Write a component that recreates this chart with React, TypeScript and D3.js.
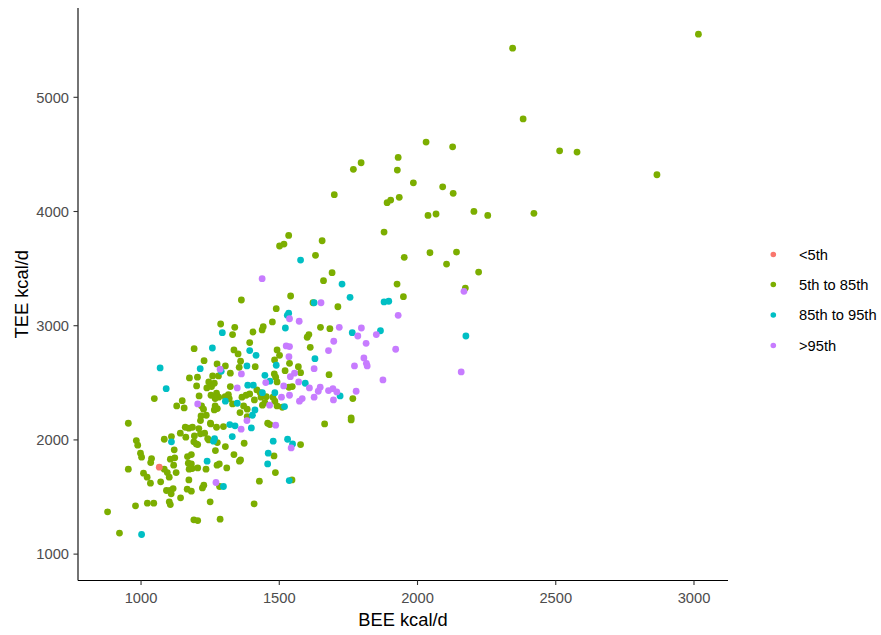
import React from "react";
import * as d3 from "d3";

const categories = ["<5th", "5th to 85th", "85th to 95th", ">95th"];
const colors = ["#F8766D", "#7CAE00", "#00BFC4", "#C77CFF"];
const xTicks = [1000, 1500, 2000, 2500, 3000];
const yTicks = [1000, 2000, 3000, 4000, 5000];

// [BEE, TEE] pairs per percentile group
const below5: [number, number][] = [[1066, 1761]];

const mid5to85: [number, number][] = [
  [954,2146],[983,1994],[988,1954],[998,1884],[1002,1849],[954,1744],[1038,1837],[1035,1802],
  [1084,1744],[1095,1714],[1102,1674],[1009,1709],[1022,1674],[1034,1621],[1071,1633],[1084,2006],
  [1110,2029],[1120,1913],[1106,1831],[1122,1843],[1118,1779],[1127,1714],[1092,1557],[1106,1557],
  [1116,1574],[1109,1528],[1102,1458],[1106,1434],[1143,1493],[1023,1446],[1046,1446],[980,1423],
  [879,1370],[922,1184],[1142,2059],[1162,2024],[1160,2111],[1173,2103],[1186,2111],[1209,2099],
  [1193,2035],[1215,2053],[1230,2059],[1241,2012],[1191,1983],[1200,1965],[1205,1959],[1168,1854],
  [1182,1872],[1171,1796],[1182,1790],[1174,1744],[1185,1749],[1205,1755],[1235,1744],[1173,1650],
  [1167,1569],[1182,1551],[1227,1604],[1222,1580],[1250,1458],[1191,1300],[1205,1294],[1286,1306],
  [1284,1592],[1252,2140],[1273,2111],[1298,2117],[1276,1977],[1245,2000],[1305,1942],[1269,1907],
  [1373,1971],[1336,1872],[1360,1825],[1356,1814],[1275,1779],[1283,1790],[1310,1755],[1363,3225],
  [1288,3015],[1339,2986],[1331,2922],[1393,2852],[1192,2799],[1336,2788],[1351,2753],[1228,2694],
  [1275,2665],[1305,2648],[1360,2689],[1355,2636],[1323,2584],[1175,2543],[1204,2549],[1259,2560],
  [1280,2560],[1245,2508],[1265,2496],[1238,2455],[1255,2467],[1201,2473],[1323,2467],[1048,2362],
  [1210,2385],[1253,2391],[1273,2409],[1281,2374],[1268,2362],[1304,2379],[1316,2397],[1319,2362],
  [1365,2374],[1380,2391],[1393,2403],[1149,2344],[1129,2298],[1156,2280],[1219,2298],[1226,2269],
  [1268,2298],[1276,2274],[1265,2263],[1331,2315],[1384,2269],[1217,2210],[1236,2216],[1358,2239],
  [1384,2204],[1215,2169],[1251,2146],[1458,2146],[1466,2134],[1664,2140],[1760,2175],[1577,1959],
  [1481,1860],[1486,1714],[1428,1639],[1546,1650],[1409,1440],[1489,3149],[1622,3201],[1712,3166],
  [1475,3033],[1442,2991],[1438,2963],[1405,2945],[1649,2986],[1683,2974],[1607,2922],[1601,2899],
  [1612,2811],[1492,2788],[1501,2741],[1483,2700],[1537,2671],[1413,2641],[1569,2641],[1521,2606],
  [1577,2589],[1680,2571],[1482,2578],[1487,2549],[1492,2508],[1535,2461],[1547,2467],[1419,2438],
  [1431,2414],[1434,2374],[1453,2379],[1477,2374],[1484,2339],[1766,2362],[1410,2350],[1371,2298],
  [1439,2304],[1448,2327],[1492,2298],[1511,2286],[1760,2193],[1699,4147],[1890,4077],[1903,4100],
  [1934,4124],[1534,3791],[1501,3698],[1517,3715],[1655,3744],[1879,3820],[1631,3616],[1691,3464],
  [1660,3394],[1926,3365],[1541,3260],[1952,3599],[2045,3639],[2141,3645],[2105,3540],[2221,3470],
  [1949,3254],[2173,3330],[2382,4811],[2031,4608],[2127,4566],[2514,4531],[2577,4520],[1930,4474],
  [1927,4363],[1985,4251],[2091,4216],[2129,4159],[2038,3966],[2067,3978],[2204,4001],[2254,3966],
  [2421,3984],[3016,5553],[2866,4322],[2344,5430],[1796,4427],[1768,4369],
];

const mid85to95: [number, number][] = [
  [1110,1983],[1002,1172],[1239,1814],[1298,1592],[1321,2134],[1340,2123],[1266,2012],[1262,1989],
  [1330,2029],[1294,2939],[1258,2805],[1393,2782],[1383,2648],[1069,2630],[1214,2624],[1290,2601],
  [1091,2449],[1386,2479],[1305,2339],[1348,2321],[1399,2105],[1478,1989],[1530,2006],[1548,1965],
  [1460,1884],[1458,1790],[1536,1644],[1626,3201],[1534,3109],[1529,3091],[1522,2980],[1764,2939],
  [1866,2956],[1416,2741],[1629,2711],[1489,2654],[1448,2566],[1466,2514],[1594,2496],[1406,2479],
  [1439,2414],[1484,2414],[1720,2385],[1412,2263],[1403,2216],[1519,2292],[1577,3575],[1727,3365],
  [1756,3249],[1879,3208],[1896,3214],[2175,2910],
];

const above95: [number, number][] = [
  [1271,1627],[1362,2094],[1383,2169],[1286,2619],[1363,2578],[1348,2455],[1205,2315],[1487,2129],
  [1543,1930],[1651,3201],[1537,3061],[1572,3039],[1717,2986],[1784,2910],[1797,2980],[1851,2922],
  [1930,3091],[1697,2864],[1814,2846],[1525,2823],[1537,2817],[1678,2782],[1921,2794],[1535,2729],
  [1806,2718],[1815,2671],[1818,2648],[1772,2648],[1626,2624],[1540,2554],[1555,2584],[1451,2502],
  [1570,2508],[1875,2525],[1516,2473],[1609,2455],[1648,2461],[1641,2426],[1678,2432],[1694,2449],
  [1708,2420],[1778,2426],[1508,2374],[1537,2391],[1583,2362],[1573,2339],[1626,2374],[1696,2350],
  [1465,2304],[1438,3412],[2168,3301],[2158,2595],
];

const groups = [below5, mid5to85, mid85to95, above95];

export default function App() {
  const W = 881, H = 635;
  const left = 78, right = 728, top = 8, bottom = 580.5;
  const x = d3.scaleLinear().domain([772, 3123]).range([left, right]);
  const y = d3.scaleLinear().domain([769, 5782]).range([bottom, top]);
  const font = "'Liberation Sans', Arial, sans-serif";
  const pts: { bx: number; ty: number; g: number }[] = [];
  groups.forEach((arr, g) => arr.forEach(([b, t]) => pts.push({ bx: b, ty: t, g })));
  // draw order: green, cyan, purple, red on top similar to ggplot mixing
  const order = [1, 2, 3, 0];
  const sorted = order.flatMap((g) => pts.filter((p) => p.g === g));
  const legendY = [254.5, 284.5, 315, 345.5];
  return (
    <svg width={W} height={H} style={{ position: "absolute", left: 0, top: 0 }} fontFamily={font}>
      <rect x={0} y={0} width={W} height={H} fill="#fff" />
      {sorted.map((p, i) => (
        <circle key={i} cx={x(p.bx)} cy={y(p.ty)} r={3.4} fill={colors[p.g]} />
      ))}
      <line x1={left} x2={right} y1={bottom} y2={bottom} stroke="#000" strokeWidth={1.1} />
      <line x1={left} x2={left} y1={top} y2={bottom} stroke="#000" strokeWidth={1.1} />
      {xTicks.map((t) => (
        <g key={"x" + t}>
          <line x1={x(t)} x2={x(t)} y1={bottom} y2={bottom + 4.5} stroke="#333" strokeWidth={1.1} />
          <text x={x(t)} y={603} textAnchor="middle" fontSize={14.7} fill="#4D4D4D">{t}</text>
        </g>
      ))}
      {yTicks.map((t) => (
        <g key={"y" + t}>
          <line x1={left - 4.5} x2={left} y1={y(t)} y2={y(t)} stroke="#333" strokeWidth={1.1} />
          <text x={69} y={y(t) + 5.2} textAnchor="end" fontSize={14.7} fill="#4D4D4D">{t}</text>
        </g>
      ))}
      <text x={(left + right) / 2} y={626} textAnchor="middle" fontSize={18.3} fill="#000">BEE kcal/d</text>
      <text transform={`translate(27.5,${(top + bottom) / 2}) rotate(-90)`} textAnchor="middle" fontSize={18.3} fill="#000">TEE kcal/d</text>
      {categories.map((c, i) => (
        <g key={c}>
          <circle cx={773.3} cy={legendY[i]} r={2.8} fill={colors[i]} />
          <text x={799} y={legendY[i] + 5.2} fontSize={14.7} fill="#000">{c}</text>
        </g>
      ))}
    </svg>
  );
}
